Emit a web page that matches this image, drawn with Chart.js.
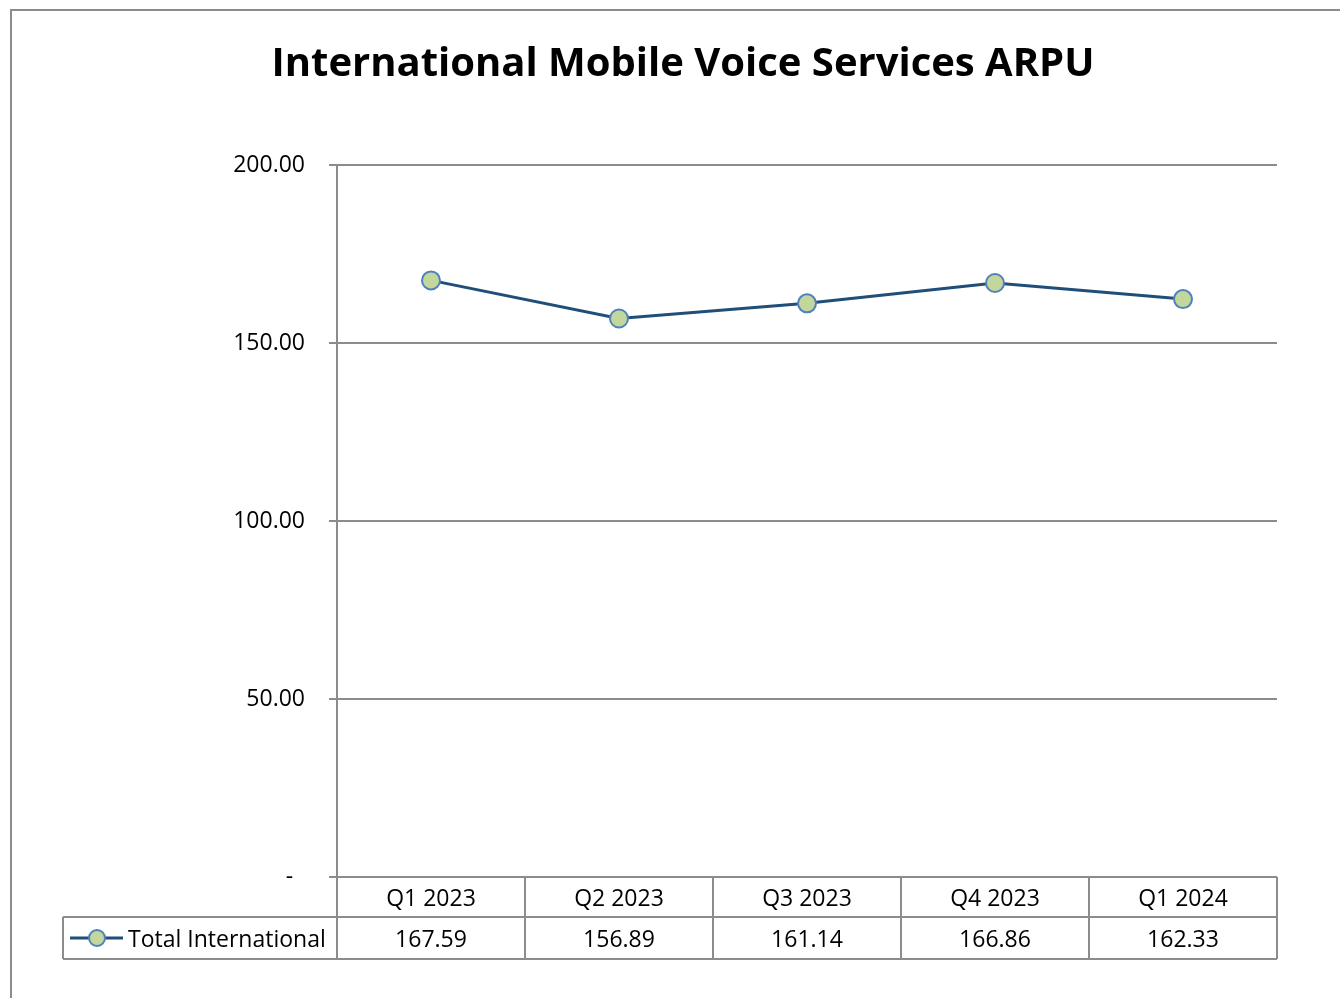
<!DOCTYPE html>
<html>
<head>
<meta charset="utf-8">
<script src="https://cdn.jsdelivr.net/npm/chart.js@4/dist/chart.umd.min.js"></script>
<style>
  body { margin: 0; background: #fff; }
  #wrap { width: 1340px; height: 998px; position: relative; }
</style>
</head>
<body>
<div id="wrap"><canvas id="arpuChart" width="1340" height="998"></canvas></div>
<script>
// данные графика
const chartTitle = 'International Mobile Voice Services ARPU';
const seriesName = 'Total International';
const categories = ['Q1 2023', 'Q2 2023', 'Q3 2023', 'Q4 2023', 'Q1 2024'];
const arpuValues = [167.59, 156.89, 161.14, 166.86, 162.33];
const yTicks = [0, 50, 100, 150, 200];

const gridColor = '#8c8c8c';
const lineColor = '#1f4e79';
const markerFill = '#c3d69b';
const markerBorder = '#4f81bd';
const textFont = '"Open Sans", "Noto Sans", sans-serif';

// рамка, заголовок и таблица данных под графиком
const tablePlugin = {
    id: 'dataTable',
    afterDraw(chart) {
        const ctx = chart.ctx;
        const area = chart.chartArea;
        const xScale = chart.scales.x;
        const colW = area.width / categories.length;
        const rowTop = area.bottom;
        const rowMid = rowTop + 40;
        const rowBottom = rowTop + 82;
        const legendLeft = 63;

        ctx.save();

        // рамка диаграммы
        ctx.strokeStyle = gridColor;
        ctx.lineWidth = 2;
        ctx.beginPath();
        ctx.moveTo(11, 1100);
        ctx.lineTo(11, 10);
        ctx.lineTo(1400, 10);
        ctx.stroke();

        // заголовок
        ctx.fillStyle = '#000';
        ctx.font = 'bold 40px ' + textFont;
        ctx.textAlign = 'center';
        ctx.textBaseline = 'alphabetic';
        ctx.fillText(chartTitle, 683, 76);

        // линии таблицы
        ctx.strokeStyle = gridColor;
        ctx.lineWidth = 2;
        ctx.beginPath();
        ctx.moveTo(legendLeft, rowMid);
        ctx.lineTo(area.right, rowMid);
        ctx.moveTo(legendLeft, rowBottom);
        ctx.lineTo(area.right, rowBottom);
        ctx.moveTo(legendLeft, rowMid);
        ctx.lineTo(legendLeft, rowBottom);
        for (let i = 0; i <= categories.length; i++) {
            const x = Math.round(area.left + i * colW);
            ctx.moveTo(x, rowTop);
            ctx.lineTo(x, rowBottom);
        }
        ctx.stroke();

        // подписи категорий и значения
        ctx.fillStyle = '#000';
        ctx.font = '23px ' + textFont;
        ctx.textAlign = 'center';
        categories.forEach((c, i) => {
            const x = xScale.getPixelForValue(i);
            ctx.fillText(c, x, rowTop + 29);
            ctx.fillText(arpuValues[i].toFixed(2), x, rowMid + 30);
        });

        // ключ легенды
        const keyY = rowMid + 21;
        ctx.strokeStyle = lineColor;
        ctx.lineWidth = 3;
        ctx.beginPath();
        ctx.moveTo(70, keyY);
        ctx.lineTo(123, keyY);
        ctx.stroke();
        ctx.beginPath();
        ctx.arc(97, keyY, 8, 0, Math.PI * 2);
        ctx.fillStyle = markerFill;
        ctx.fill();
        ctx.strokeStyle = markerBorder;
        ctx.lineWidth = 2;
        ctx.stroke();

        ctx.fillStyle = '#000';
        ctx.textAlign = 'left';
        ctx.fillText(seriesName, 128, rowMid + 30);

        ctx.restore();
    }
};

const ctx = document.getElementById('arpuChart').getContext('2d');

const arpuChart = new Chart(ctx, {
    type: 'line',
    data: {
        labels: categories,
        datasets: [{
            label: seriesName,
            data: arpuValues,
            borderColor: lineColor,
            borderWidth: 3,
            tension: 0,
            pointRadius: 9,
            pointHoverRadius: 9,
            pointBackgroundColor: markerFill,
            pointBorderColor: markerBorder,
            pointBorderWidth: 2
        }]
    },
    options: {
        responsive: false,
        animation: false,
        devicePixelRatio: 1,
        layout: {
            padding: { left: 0, right: 63, top: 165, bottom: 121 }
        },
        plugins: {
            legend: { display: false },
            title: { display: false },
            tooltip: { enabled: false }
        },
        scales: {
            x: {
                display: false,
                offset: true
            },
            y: {
                min: 0,
                max: 200,
                afterFit(scale) { scale.width = 337; },
                afterBuildTicks(scale) {
                    scale.ticks = yTicks.map(v => ({ value: v }));
                },
                border: { display: true, color: gridColor, width: 2 },
                grid: {
                    color: gridColor,
                    lineWidth: 2,
                    drawTicks: true,
                    tickLength: 8
                },
                ticks: {
                    padding: 24,
                    color: '#000',
                    font: { family: textFont, size: 23 },
                    callback: v => v === 0 ? '-  ' : v.toFixed(2)
                }
            }
        }
    },
    plugins: [tablePlugin]
});
</script>
</body>
</html>
